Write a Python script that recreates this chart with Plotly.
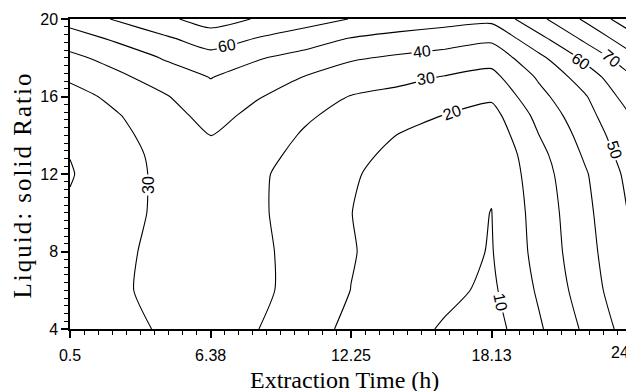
import plotly.graph_objects as go

x_hours = [0.5, 2.46, 4.42, 6.38, 8.34, 10.29, 12.25, 14.21, 16.17, 18.13, 20.09, 22.04, 24.0]
y_ratio = [4, 6, 8, 10, 12, 13, 14, 15, 16, 17, 18, 19, 20]

z_y4  = [27.0, 28.0, 30.7, 33.5, 30.2, 23.7, 18.0, 13.5, 9.05, 5.85, 18.6, 31.7, 45.1]
z_y6  = [27.5, 29.1, 31.6, 34.0, 32.3, 26.1, 19.9, 16.0, 12.1, 8.23, 21.2, 34.8, 48.2]
z_y8  = [28.5, 28.7, 31.6, 34.5, 32.0, 26.5, 20.5, 16.7, 13.1, 9.5, 23.1, 36.5, 49.5]
z_y10 = [29.4, 27.7, 31.3, 35.0, 31.3, 26.1, 20.1, 16.5, 12.2, 9.9, 23.9, 37.5, 51.3]
z_y12 = [30.3, 27.3, 31.4, 35.5, 31.4, 26.4, 20.9, 17.0, 13.5, 10.8, 25.4, 39.0, 53.4]
z_y13 = [29.9, 26.9, 32.2, 37.5, 32.7, 27.7, 22.3, 18.0, 14.5, 11.5, 26.9, 41.3, 55.5]
z_y14 = [28.2, 27.6, 33.9, 40.2, 34.5, 29.2, 24.5, 19.8, 16.0, 13.5, 29.8, 43.6, 57.9]
z_y15 = [26.8, 29.3, 35.8, 43.4, 37.2, 31.2, 27.1, 23.4, 19.7, 16.5, 32.7, 46.5, 60.4]
z_y16 = [26.5, 32.4, 39.0, 46.8, 40.6, 35.9, 29.6, 27.5, 24.7, 21.6, 37.0, 49.2, 65.1]
z_y17 = [31.5, 37.8, 44.5, 50.3, 45.6, 39.7, 34.9, 32.4, 29.5, 27.1, 41.2, 54.8, 69.3]
z_y18 = [37.6, 43.8, 50.7, 56.7, 50.8, 46.7, 41.2, 38.6, 36.4, 33.7, 47.5, 62.2, 77.3]
z_y19 = [45.3, 51.75, 58.4, 64.8, 59.6, 55.0, 49.6, 47.0, 44.6, 42.0, 57.1, 72.2, 86.6]
z_y20 = [54.0, 61.0, 67.7, 74.5, 69.2, 64.3, 59.7, 56.0, 54.0, 52.5, 67.4, 81.6, 96.8]

x_tickvals = [0.5, 6.38, 12.25, 18.13]
x_ticktext = ["0.5", "6.38", "12.25", "18.13"]
y_tickvals = [4, 8, 12, 16, 20]
y_ticktext = ["4", "8", "12", "16", "20"]

# contour label texts, with placement (data coords) and rotation
label_text = ["60", "40", "30", "20", "30", "60", "70", "50", "10"]
label_x = [7.06, 15.22, 15.39, 16.47, 3.76, 21.87, 23.12, 23.25, 18.52]
label_y = [18.61, 18.32, 16.93, 15.2, 11.43, 17.83, 17.94, 13.24, 5.39]
label_angle = [-10, -7, -8, -20, -90, 35, 40, 72, 78]

z = [z_y4, z_y6, z_y8, z_y10, z_y12, z_y13, z_y14, z_y15, z_y16,
     z_y17, z_y18, z_y19, z_y20]

fig = go.Figure()
fig.add_trace(go.Contour(
    x=x_hours, y=y_ratio, z=z,
    contours=dict(start=10, end=90, size=10, coloring="none", showlabels=False),
    line=dict(color="black", width=1.1, smoothing=0.6),
    showscale=False, hoverinfo="skip",
))

tick_font = dict(family="Liberation Sans, Arial, sans-serif", size=16, color="black")

fig.update_xaxes(
    range=[0.5, 23.75], tickmode="array", tickvals=x_tickvals, ticktext=x_ticktext,
    ticks="outside", ticklen=7, tickwidth=1.5, tickcolor="black",
    showline=True, linecolor="black", linewidth=1.5, mirror=True,
    showgrid=False, zeroline=False, tickfont=tick_font, ticklabelstandoff=4,
    minor=dict(tickmode="linear", tick0=0.5, dtick=0.5875, ticks="outside",
               ticklen=4, tickwidth=1.2, tickcolor="black", showgrid=False),
)
fig.update_yaxes(
    range=[4, 20], tickmode="array", tickvals=y_tickvals, ticktext=y_ticktext,
    ticks="outside", ticklen=7, tickwidth=1.5, tickcolor="black",
    showline=True, linecolor="black", linewidth=1.5, mirror=False,
    showgrid=False, zeroline=False, tickfont=tick_font,
    minor=dict(tickmode="linear", tick0=4, dtick=0.4, ticks="outside",
               ticklen=4, tickwidth=1.2, tickcolor="black", showgrid=False),
)

annotations = []
for t, lx, ly, a in zip(label_text, label_x, label_y, label_angle):
    annotations.append(dict(
        x=lx, y=ly, xref="x", yref="y", text=t, showarrow=False, textangle=a,
        font=dict(family="Liberation Sans, Arial, sans-serif", size=16, color="black"),
        bgcolor="white", borderpad=1, xanchor="center", yanchor="middle",
    ))

# the last x tick label (24) sits at the visible edge
annotations.append(dict(
    x=0.989, y=-0.0742, xref="paper", yref="paper", text="24", showarrow=False,
    font=tick_font, xanchor="center", yanchor="middle",
))
# axis titles
annotations.append(dict(
    x=0.493, y=-0.166, xref="paper", yref="paper", text="Extraction Time (h)",
    showarrow=False, font=dict(family="Liberation Serif, Times New Roman, serif", size=24, color="black"),
    xanchor="center", yanchor="middle",
))
annotations.append(dict(
    x=-0.0863, y=0.463, xref="paper", yref="paper",
    text='<span style="letter-spacing:2px">Liquid: solid Ratio</span>',
    showarrow=False, textangle=-90,
    font=dict(family="Liberation Serif, Times New Roman, serif", size=25, color="black"),
    xanchor="center", yanchor="middle",
))

fig.update_layout(
    width=626, height=391,
    margin=dict(l=70, r=0, t=19, b=62),
    paper_bgcolor="white", plot_bgcolor="white",
    showlegend=False, annotations=annotations,
)

fig.write_html(
    "out.html",
    config={"displayModeBar": False},
    post_script="document.body.style.margin='0';document.body.style.overflow='hidden';",
)
